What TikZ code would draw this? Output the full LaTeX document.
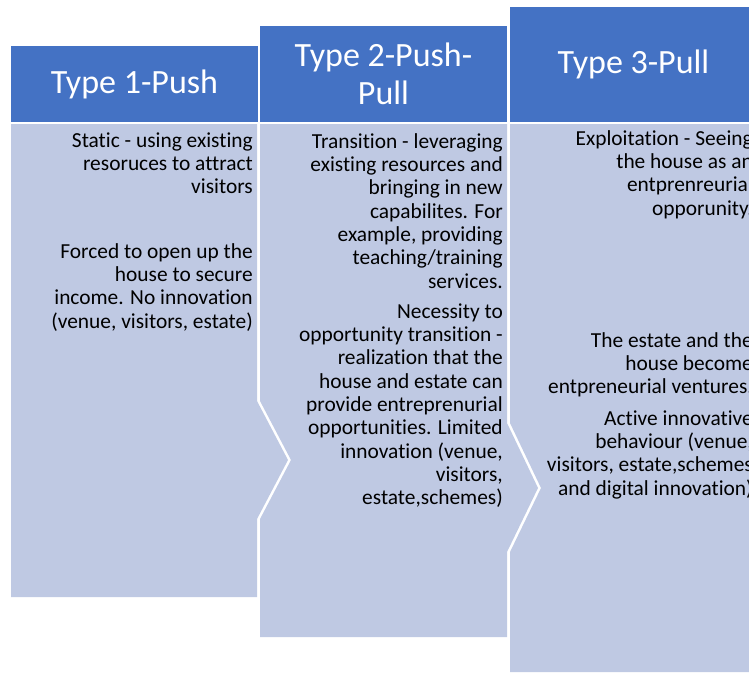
\documentclass[tikz,border=0pt]{standalone}
\usepackage{fontspec}
\setmainfont{Carlito}[RawFeature={-liga;-clig;-dlig}]
\usepackage{tikz}
\usetikzlibrary{calc}
\definecolor{hdrblue}{RGB}{68,114,196}
\definecolor{bodyblue}{RGB}{191,201,227}

\begin{document}
\begin{tikzpicture}[x=1pt,y=-1pt,
		hdr/.style={fill=hdrblue, text=white, minimum width=247pt, inner sep=0pt, align=center, font=\fontsize{34}{38}\selectfont},
		txt/.style={anchor=north east, inner sep=0pt, align=right, text=black, font=\fontsize{21.4}{23.3}\selectfont}]
		\clip (0,0) rectangle (749,672);
		% body panels with chevrons
		\fill[bodyblue] (11,124)--(257,124)--(257,401)--(288,460)--(257,519)--(257,597)--(11,597)--cycle;
		\fill[bodyblue] (260,124)--(507,124)--(507,423)--(538,488)--(507,552)--(507,637)--(260,637)--(260,519)--(291,460)--(260,401)--cycle;
		\fill[bodyblue] (510,124)--(757,124)--(757,672)--(510,672)--(510,552)--(541,488)--(510,423)--cycle;
		% headers
		\node[hdr, minimum height=76pt] (h1) at (134.5,84) {Type 1-Push};
		\node[hdr, minimum height=96pt] (h2) at (383.5,74) {Type 2-Push-\\Pull};
		\node[hdr, minimum height=115pt] (h3) at (633.5,64.5) {Type 3-Pull};
		% texts
		\node[txt] (t1a) at (253,130.7) {\strut Static - using existing\\resoruces to attract\\visitors};
		\node[txt] (t1b) at (253,241.7) {\strut Forced to open up the\\house to secure\\income. No innovation\\(venue, visitors, estate)};
		\node[txt] (t2a) at (503,131.7) {\strut Transition - leveraging\\existing resources and\\bringing in new\\capabilites. For\\example, providing\\teaching/training\\services.};
		\node[txt] (t2b) at (503,301.7) {\strut Necessity to\\opportunity transition -\\realization that the\\house and estate can\\provide entreprenurial\\opportunities. Limited\\innovation (venue,\\visitors,\\estate,schemes)};
		\node[txt] (t3a) at (753,128.7) {\strut Exploitation - Seeing\\the house as an\\entprenreurial\\opporunity.};
		\node[txt] (t3b) at (753,330.7) {\strut The estate and the\\house become\\entpreneurial ventures.};
		\node[txt] (t3c) at (753,408.7) {\strut Active innovative\\behaviour (venue,\\visitors, estate,schemes\\and digital innovation)};
	\end{tikzpicture}
\end{document}
